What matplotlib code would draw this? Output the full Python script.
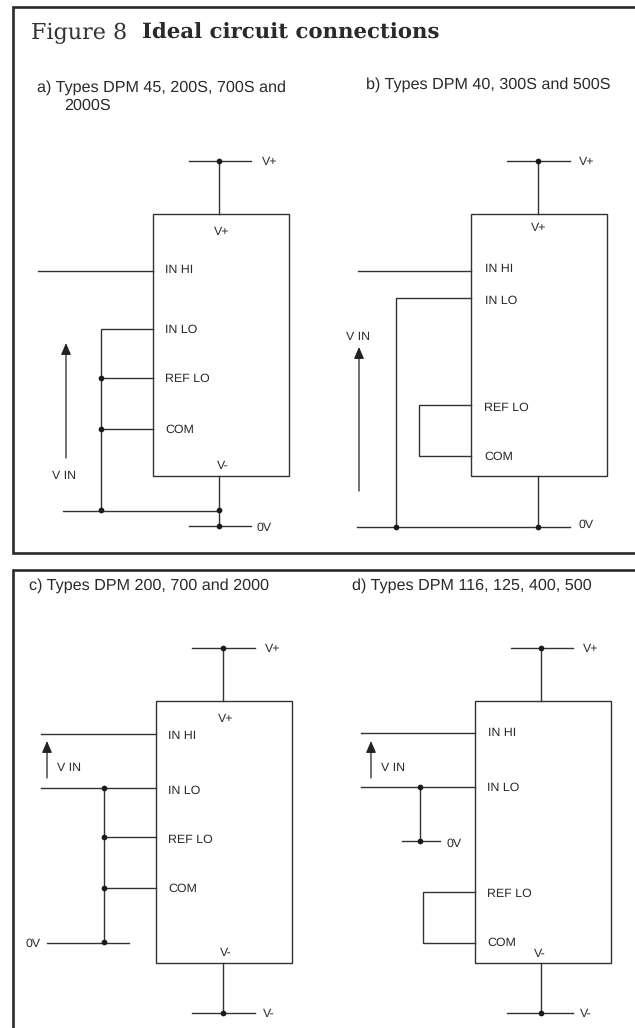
import matplotlib
matplotlib.use("Agg")
import matplotlib.pyplot as plt

plt.rcParams["text.hinting"] = "no_hinting"
plt.rcParams["text.hinting_factor"] = 8

W, H = 635, 1028
INK = "#2a2a2a"

# frame panels: [x0, y0, x1, y1], in pixels from top left
frames = [(13, 7, 640, 553), (13, 570, 640, 1040)]

# chip boxes
boxes = [(153, 214, 289, 476), (471, 214, 607, 476), (156, 701, 292, 963), (475, 701, 611, 963)]

# wires, each one a polyline
wires_xs = [
    [189, 251], [219, 219], [38, 153], [153, 101, 101], [101, 153], [101, 153], [63, 219], [219, 219], [189, 251],
    [507, 570], [538, 538], [358, 471], [471, 396, 396], [357, 570], [538, 538], [471, 419, 419, 471],
    [192, 255], [223, 223], [41, 156], [41, 156], [104, 104], [104, 156], [104, 156], [47, 129], [223, 223], [192, 255],
    [511, 573], [541, 541], [361, 475], [361, 475], [420, 420], [402, 440], [475, 423, 423, 475], [541, 541], [507, 573],
]
wires_ys = [
    [161, 161], [161, 214], [271, 271], [329, 329, 511], [378, 378], [429, 429], [511, 511], [476, 526], [526, 526],
    [161, 161], [161, 214], [271, 271], [298, 298, 527], [527, 527], [476, 527], [405, 405, 456, 456],
    [648, 648], [648, 701], [734, 734], [788, 788], [788, 943], [837, 837], [888, 888], [943, 943], [963, 1013], [1013, 1013],
    [648, 648], [648, 701], [733, 733], [787, 787], [787, 841], [841, 841], [892, 892, 943, 943], [963, 1013], [1013, 1013],
]

# junction dots
dots_x = [219, 101, 101, 101, 219, 219, 538, 396, 538,
          223, 104, 104, 104, 104, 223,
          541, 420, 420, 541]
dots_y = [161, 378, 429, 510, 510, 526, 161, 527, 527,
          648, 788, 837, 888, 942, 1013,
          648, 787, 841, 1013]

# V IN arrows: x, tail, head
arrow_x = [66, 359, 47, 371]
arrow_tail = [458, 491, 778, 778]
arrow_head = [343, 347, 741, 741]

# small labels
labels = ["V+", "V+", "IN HI", "IN LO", "REF LO", "COM", "V-", "V IN", "0V",
          "V+", "V+", "IN HI", "IN LO", "REF LO", "COM", "V IN", "0V",
          "V+", "V+", "IN HI", "V IN", "IN LO", "REF LO", "COM", "0V", "V-", "V-",
          "V+", "IN HI", "V IN", "IN LO", "0V", "REF LO", "COM", "V-", "V-"]
label_x = [262, 214, 165, 165, 165, 165, 217, 52, 257,
           579, 531, 485, 485, 484, 484, 346, 579,
           265, 218, 168, 57, 168, 168, 168, 26, 220, 263,
           583, 488, 381, 487, 447, 487, 487, 534, 580]
label_y = [161, 231, 269, 329, 378, 429, 465, 475, 527,
           161, 227, 268, 300, 407, 456, 336, 524,
           648, 718, 735, 767, 790, 839, 888, 943, 952, 1013,
           648, 732, 767, 787, 843, 893, 942, 953, 1013]

# panel headings
headings = ["a) Types DPM 45, 200S, 700S and", "2000S", "b) Types DPM 40, 300S and 500S",
            "c) Types DPM 200, 700 and 2000", "d) Types DPM 116, 125, 400, 500"]
heading_x = [37, 64, 366, 29, 352]
heading_y = [87, 105, 84, 585, 585]

fig = plt.figure(figsize=(W / 100, H / 100), dpi=100)
ax = fig.add_axes([0, 0, 1, 1])
ax.set_xlim(0, W)
ax.set_ylim(H, 0)
ax.axis("off")

for x0, y0, x1, y1 in frames:
    ax.plot([x1, x0, x0, x1], [y0, y0, y1, y1], color=INK, lw=1.9, solid_joinstyle="miter")

for x0, y0, x1, y1 in boxes:
    ax.add_patch(plt.Rectangle((x0, y0), x1 - x0, y1 - y0, fill=False, edgecolor="#333333", lw=1.0))

for xs, ys in zip(wires_xs, wires_ys):
    ax.plot(xs, ys, color="#333333", lw=1.0, solid_joinstyle="miter")

ax.scatter(dots_x, dots_y, s=17, color="#1a1a1a", zorder=3, linewidths=0)

for x, t, h in zip(arrow_x, arrow_tail, arrow_head):
    ax.annotate("", xy=(x, h), xytext=(x, t),
                arrowprops=dict(arrowstyle="-|>,head_length=0.7,head_width=0.3", color="#222222", lw=0.9,
                                shrinkA=0, shrinkB=0))

# va=center sits a bit high for these fonts, hence the +1
for s, x, y in zip(labels, label_x, label_y):
    ax.text(x, y + 1, s, fontsize=8.9, family="Liberation Sans", color=INK, ha="left", va="center")

for s, x, y in zip(headings, heading_x, heading_y):
    ax.text(x, y + 1, s, fontsize=11.6, family="Liberation Sans", color=INK, ha="left", va="center")

ax.text(31, 33, "Figure 8", fontsize=16, family="DejaVu Serif", color="#333333", ha="left", va="center")
ax.text(142, 33, "Ideal circuit connections", fontsize=15.3, family="DejaVu Serif", color=INK, ha="left", va="center",
        fontweight="bold")

fig.savefig("out.png", dpi=100)
